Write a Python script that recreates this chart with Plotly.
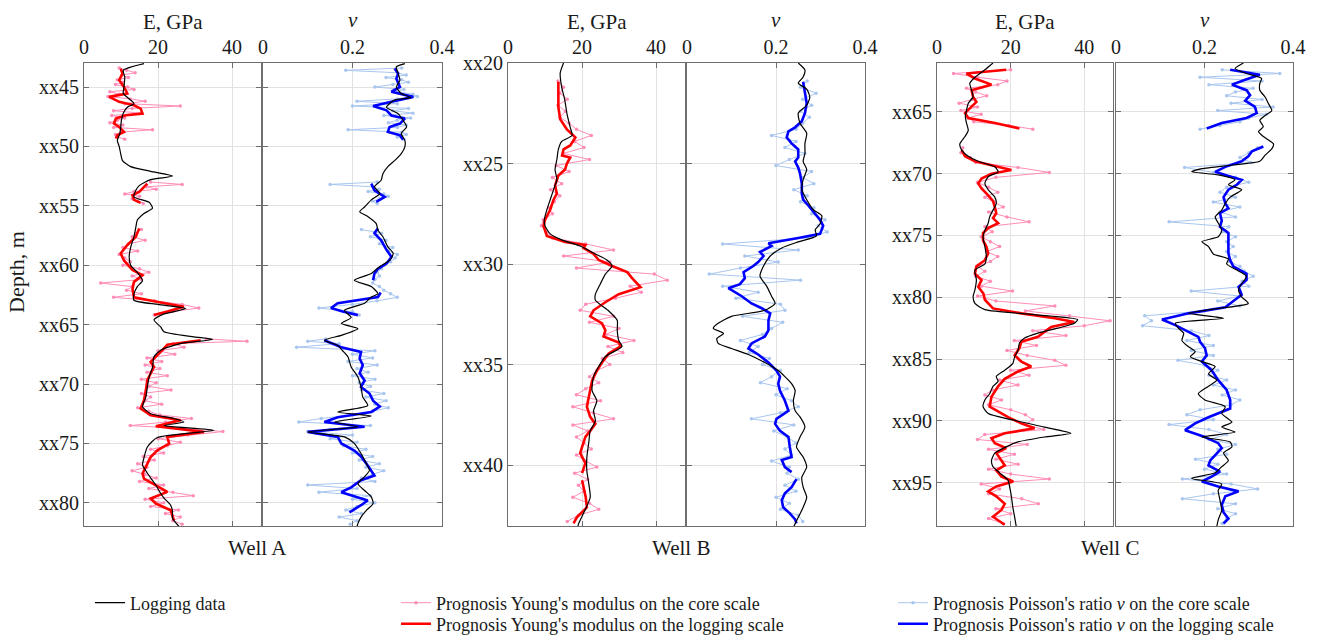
import plotly.graph_objects as go

W, H = 1319, 639
FONT = "Liberation Serif"

# ---------------------------------------------------------------- Well A
A_blackE_depth = [43.03, 43.59, 44.15, 45.0, 45.55, 46.1, 46.4, 46.7, 47.2, 47.8, 48.4, 48.9, 49.5, 50.0, 50.6,
                  51.2, 51.7, 52.1, 52.5, 52.8, 53.3, 53.7, 54.25, 54.7, 55.2, 55.65, 56.2, 56.8, 57.6, 58.5,
                  59.3, 60.0, 60.6, 61.3, 61.8, 62.4, 62.95, 63.3, 63.65, 64.1, 64.6, 65.2, 65.6, 66.03, 66.25,
                  66.6, 67.15, 67.7, 68.6, 69.4, 70.25, 71.1, 71.9, 72.5, 72.9, 73.2, 73.5, 73.9, 74.5, 75.3,
                  76.2, 76.8, 77.3, 77.9, 78.5, 79.0, 79.6, 80.2, 80.7, 81.3, 82.0]
A_blackE = [16.2, 10.6, 11.0, 10.8, 10.6, 12.6, 13.5, 11.7, 10.6, 10.1, 9.9, 9.7, 9.0, 9.5, 9.9,
            10.4, 12.6, 18.0, 23.9, 18.0, 14.9, 14.0, 13.5, 17.6, 18.5, 16.2, 14.4, 14.0, 13.5, 12.6,
            12.2, 12.6, 14.4, 15.8, 14.4, 13.5, 13.5, 20.0, 27.5, 21.6, 18.9, 20.7, 21.6, 29.7, 34.7,
            26.0, 20.7, 18.9, 18.5, 17.6, 17.1, 16.7, 15.8, 18.0, 24.3, 27.0, 21.6, 35.1, 19.8, 17.1,
            16.2, 15.8, 16.7, 18.0, 19.4, 20.3, 21.6, 23.4, 23.9, 23.9, 25.7]

A_blackNu_depth = [43.03, 43.3, 43.87, 44.43, 45.0, 45.55, 45.9, 46.1, 46.7, 47.24, 47.8, 48.36, 48.9, 49.5, 50.04,
                   50.6, 51.2, 51.7, 52.3, 52.85, 53.4, 53.97, 54.5, 55.1, 55.5, 55.9, 56.5, 57.06, 57.6, 58.46,
                   59.0, 59.6, 60.1, 60.7, 61.27, 61.8, 62.4, 62.67, 63.2, 63.8, 64.4, 64.9, 65.35, 65.9, 66.32,
                   66.75, 67.2, 67.72, 68.56, 69.4, 70.25, 71.1, 71.8, 72.35, 72.7, 73.2, 73.6, 74.03, 74.45, 75.0,
                   75.85, 76.7, 77.26, 77.8, 78.4, 78.96, 79.5, 80.06, 80.63, 81.2, 81.75, 82.0]
A_blackNu = [0.317, 0.298, 0.302, 0.306, 0.298, 0.309, 0.33, 0.294, 0.276, 0.302, 0.313, 0.321, 0.309, 0.317, 0.317,
             0.309, 0.294, 0.279, 0.268, 0.264, 0.249, 0.261, 0.242, 0.227, 0.216, 0.234, 0.253, 0.257, 0.268, 0.279,
             0.291, 0.283, 0.261, 0.242, 0.204, 0.242, 0.257, 0.242, 0.227, 0.182, 0.197, 0.175, 0.212, 0.175, 0.137,
             0.167, 0.178, 0.19, 0.197, 0.212, 0.219, 0.223, 0.234, 0.167, 0.242, 0.16, 0.212, 0.1, 0.182, 0.204,
             0.219, 0.231, 0.238, 0.227, 0.212, 0.227, 0.242, 0.246, 0.231, 0.219, 0.212, 0.21]

A_redE_depth = [
    [43.45, 43.87, 44.43, 44.99, 45.55, 45.83, 46.25, 46.54, 46.82, 47.24, 47.38, 47.66, 48.08, 48.36, 48.78, 49.06, 49.34],
    [53.13, 53.83, 54.1, 54.5, 54.75],
    [56.9, 57.6, 58.3, 59.0, 59.6, 60.4, 60.85, 61.4, 62.0, 62.7, 63.1, 63.5, 63.9, 64.2],
    [66.32, 66.7, 67.3, 67.72, 68.14, 68.56, 69.12, 69.68, 70.53, 71.37, 72.07, 72.63, 73.05, 73.56, 74.03, 74.45,
     75.01, 75.58, 76.14, 77.54, 77.96, 78.52, 79.08, 79.64, 80.06, 80.63, 81.47],
]
A_redE = [
    [9.9, 10.4, 9.5, 10.8, 11.7, 6.8, 9.5, 13.5, 15.3, 15.8, 11.3, 8.6, 8.1, 9.5, 10.8, 9.0, 8.6],
    [17.1, 14.9, 13.1, 13.5, 15.3],
    [14.9, 14.0, 11.7, 9.9, 10.8, 13.1, 15.8, 13.5, 13.1, 13.5, 20.0, 27.0, 22.5, 18.9],
    [31.5, 22.5, 20.7, 19.4, 18.0, 18.9, 18.0, 17.1, 16.7, 16.2, 15.3, 18.0, 26.1, 19.4, 32.4, 22.5,
     23.0, 19.8, 18.0, 15.8, 16.2, 19.4, 22.5, 18.0, 19.4, 23.4, 24.3],
]

A_blueNu_depth = [
    [43.45, 43.87, 44.3, 44.99, 45.4, 45.83, 46.25, 46.6, 46.96, 47.4, 47.66, 48.08, 48.36, 48.78, 49.06, 49.43],
    [53.13, 53.7, 54.25, 54.67],
    [56.9, 57.3, 57.9, 58.7, 59.3, 59.86, 60.3, 60.7, 61.27],
    [62.3, 62.67, 63.2, 63.6, 63.9, 64.2],
    [66.32, 66.9, 67.3, 67.86, 68.4, 69.1, 69.7, 70.25, 70.8, 71.4, 71.9, 72.35, 72.8, 73.2, 73.6, 74.03,
     74.45, 75.0, 75.6, 76.1, 76.7, 77.26, 77.7, 78.1, 78.7, 79.1, 79.5, 79.8, 80.2, 80.8],
]
A_blueNu = [
    [0.294, 0.302, 0.298, 0.306, 0.287, 0.336, 0.287, 0.246, 0.276, 0.287, 0.317, 0.306, 0.283, 0.279, 0.306, 0.313],
    [0.242, 0.249, 0.272, 0.253],
    [0.257, 0.249, 0.264, 0.276, 0.287, 0.276, 0.257, 0.249, 0.246],
    [0.263, 0.257, 0.167, 0.152, 0.178, 0.212],
    [0.137, 0.175, 0.219, 0.216, 0.223, 0.216, 0.227, 0.219, 0.238, 0.246, 0.261, 0.242, 0.167, 0.137, 0.227, 0.1,
     0.167, 0.175, 0.204, 0.219, 0.231, 0.242, 0.249, 0.219, 0.197, 0.175, 0.212, 0.234, 0.219, 0.193],
]

A_core_depth = [
    [43.4, 43.6, 43.8, 44.0, 44.2, 44.4, 44.6, 44.8, 45.0, 45.2, 45.4, 45.6, 45.8, 46.0, 46.2, 46.4,
     46.6, 46.8, 47.0, 47.2, 47.4, 47.6, 47.8, 48.0, 48.2, 48.4, 48.6, 48.8, 49.0, 49.2, 49.4],
    [53.0, 53.2, 53.4, 53.6, 53.8, 54.0, 54.2, 54.4, 54.6, 54.8],
    [57.0, 57.3, 57.6, 57.9, 58.2, 58.5, 58.8, 59.1, 59.4, 59.7, 60.0, 60.3, 60.6, 60.9, 61.2, 61.5,
     61.8, 62.1, 62.4, 62.7, 63.0, 63.3, 63.6, 63.9, 64.2],
    [66.2, 66.4, 66.6, 66.9, 67.2, 67.5, 67.8, 68.1, 68.4, 68.7, 69.0, 69.3, 69.6, 69.9, 70.2, 70.5,
     70.8, 71.1, 71.4, 71.7, 72.0, 72.3, 72.6, 72.9, 73.2, 73.5, 73.8, 74.0, 74.3, 74.6, 74.9, 75.2,
     75.5, 75.8, 76.1, 76.4, 76.7, 77.0, 77.3, 77.6, 77.9, 78.2, 78.5, 78.8, 79.1, 79.4, 79.7, 80.0,
     80.3, 80.6, 80.9, 81.2, 81.5, 81.8],
]
A_coreE = [
    [9.5, 11.5, 13.8, 10.2, 12.0, 9.0, 10.5, 8.5, 11.8, 13.5, 7.0, 9.5, 6.5, 12.5, 16.5, 11.0,
     26.0, 13.0, 8.0, 15.5, 7.5, 11.0, 9.0, 7.0, 10.5, 8.0, 18.5, 10.0, 8.5, 9.0, 11.0],
    [18.0, 26.5, 17.0, 19.5, 13.5, 11.0, 15.0, 13.0, 14.5, 16.0],
    [15.5, 14.0, 13.0, 16.5, 12.0, 10.5, 14.5, 9.5, 11.0, 12.5, 10.5, 15.0, 17.5, 13.0, 15.5, 4.5,
     13.0, 11.5, 15.5, 8.0, 19.0, 26.5, 31.0, 24.0, 19.0],
    [33.0, 44.0, 24.0, 27.0, 20.0, 24.5, 17.0, 21.0, 16.5, 20.5, 17.0, 22.5, 15.5, 19.5, 17.5, 23.5,
     15.5, 18.0, 16.5, 21.0, 14.5, 17.5, 20.5, 29.0, 22.0, 12.5, 30.0, 37.5, 28.0, 20.0, 26.0, 22.5,
     18.0, 21.5, 16.0, 19.0, 14.5, 17.0, 13.0, 16.5, 19.5, 15.0, 21.5, 17.5, 24.0, 29.5, 16.5, 21.5,
     18.0, 25.5, 22.0, 26.0, 24.0, 26.5],
]
A_coreNu = [
    [0.31, 0.185, 0.30, 0.32, 0.275, 0.31, 0.325, 0.29, 0.25, 0.315, 0.30, 0.335, 0.345, 0.30, 0.21, 0.30,
     0.20, 0.325, 0.29, 0.335, 0.27, 0.33, 0.30, 0.28, 0.32, 0.30, 0.19, 0.31, 0.32, 0.30, 0.315],
    [0.255, 0.15, 0.245, 0.26, 0.235, 0.27, 0.28, 0.26, 0.245, 0.255],
    [0.22, 0.265, 0.24, 0.275, 0.26, 0.29, 0.28, 0.30, 0.295, 0.285, 0.27, 0.265, 0.255, 0.26, 0.25, 0.245,
     0.26, 0.27, 0.285, 0.30, 0.255, 0.20, 0.125, 0.20, 0.215],
    [0.14, 0.10, 0.17, 0.075, 0.25, 0.20, 0.245, 0.19, 0.255, 0.21, 0.235, 0.20, 0.25, 0.215, 0.24, 0.22,
     0.27, 0.23, 0.275, 0.25, 0.28, 0.245, 0.20, 0.13, 0.08, 0.24, 0.15, 0.10, 0.20, 0.15, 0.21, 0.18,
     0.23, 0.20, 0.245, 0.215, 0.26, 0.23, 0.27, 0.245, 0.22, 0.25, 0.10, 0.21, 0.125, 0.24, 0.20, 0.25,
     0.21, 0.185, 0.22, 0.17, 0.21, 0.195],
]

# ---------------------------------------------------------------- Well B
B_blackE_depth = [20.0, 20.5, 21.2, 21.8, 22.5, 23.2, 23.6, 23.9, 24.3, 24.8, 25.3, 25.8, 26.3, 26.8, 27.3, 27.8,
                  28.1, 28.5, 28.8, 29.1, 29.5, 29.8, 30.1, 30.5, 31.0, 31.5, 31.8, 32.3, 32.8, 33.3, 33.8, 34.1,
                  34.6, 35.1, 35.6, 36.3, 36.8, 37.3, 37.8, 38.3, 38.9, 39.6, 40.3, 40.9, 41.6, 42.2, 42.9, 43.1]
B_blackE = [15.0, 14.1, 14.5, 15.3, 15.9, 16.8, 17.3, 14.5, 13.6, 13.2, 12.7, 13.2, 12.3, 11.4, 10.5, 9.8,
            10.0, 11.4, 14.5, 19.5, 23.6, 26.7, 28.1, 26.3, 24.9, 23.6, 23.6, 27.0, 29.5, 29.5, 29.9, 30.8,
            26.3, 24.5, 23.1, 22.7, 24.0, 23.1, 23.6, 22.2, 21.8, 21.3, 21.3, 21.8, 22.2, 20.9, 19.1, 18.8]

B_blackNu_depth = [20.0, 20.35, 20.7, 21.0, 21.3, 21.7, 22.1, 22.5, 23.0, 23.5, 24.0, 24.5, 24.9, 25.3, 25.8, 26.3,
                   26.8, 27.3, 27.6, 28.0, 28.3, 28.6, 28.9, 29.2, 29.6, 30.1, 30.6, 31.1, 31.6, 31.96, 32.3, 32.6,
                   32.95, 33.2, 33.45, 33.7, 33.95, 34.2, 34.5, 34.9, 35.3, 35.6, 35.95, 36.3, 36.8, 37.3, 37.6, 38.1,
                   38.6, 39.1, 39.6, 40.1, 40.6, 41.1, 41.6, 42.1, 42.6, 43.1]
B_blackNu = [0.25, 0.265, 0.261, 0.25, 0.269, 0.276, 0.269, 0.25, 0.254, 0.269, 0.265, 0.265, 0.261, 0.269, 0.261, 0.258,
             0.269, 0.284, 0.303, 0.299, 0.288, 0.291, 0.25, 0.213, 0.187, 0.172, 0.164, 0.179, 0.19, 0.198, 0.175, 0.1,
             0.07, 0.059, 0.082, 0.067, 0.07, 0.1, 0.138, 0.175, 0.205, 0.22, 0.235, 0.243, 0.239, 0.243, 0.254, 0.265,
             0.254, 0.246, 0.261, 0.269, 0.258, 0.261, 0.269, 0.261, 0.25, 0.239]

B_redE_depth = [
    [20.93, 21.5, 22.2, 22.8, 23.3, 23.7, 24.1, 24.3, 24.6, 24.7, 25.0, 25.3, 25.6, 26.1, 26.5, 26.8, 27.3,
     27.8, 28.1, 28.6, 28.9, 29.05, 29.2, 29.5, 29.8, 30.1, 30.4, 30.7, 31.0, 31.15, 31.5, 31.9, 32.3, 32.6,
     32.95, 33.3, 33.6, 33.9, 34.1, 34.45, 34.9, 35.3, 35.8, 36.3, 36.8, 37.1, 37.6, 37.95, 38.3, 38.6, 39.1,
     39.4, 39.9, 40.4],
    [40.75, 41.1, 41.6, 42.1, 42.6, 42.9],
]
B_redE = [
    [13.6, 13.6, 13.6, 14.1, 15.9, 18.2, 16.8, 15.0, 14.6, 16.8, 15.9, 15.4, 13.6, 12.7, 13.2, 12.3, 11.4,
     10.0, 9.6, 10.5, 15.4, 20.9, 20.4, 23.1, 24.5, 28.1, 32.2, 33.5, 34.9, 35.8, 29.9, 26.3, 23.1, 22.2,
     25.4, 26.3, 25.8, 29.9, 30.4, 27.2, 25.4, 24.0, 22.7, 22.2, 21.8, 21.3, 22.2, 23.6, 22.2, 20.9, 20.0,
     19.5, 20.9, 20.0],
    [20.0, 20.4, 21.0, 21.3, 18.6, 17.7],
]

B_blueNu_depth = [
    [20.93, 21.5, 22.0, 22.5, 22.9, 23.2, 23.4, 23.7, 24.0, 24.3, 24.7, 24.9, 25.2, 25.5, 26.0, 26.5, 26.8,
     27.1, 27.5, 27.8, 28.1, 28.5, 28.7, 28.97, 29.1, 29.4, 29.6, 29.9, 30.1, 30.4, 30.7, 31.0, 31.2, 31.3,
     31.6, 31.96, 32.2, 32.45, 32.8, 33.3, 33.6, 33.95, 34.2, 34.5, 34.9, 35.3, 35.6, 35.95, 36.3, 36.8, 37.3,
     37.7, 37.95, 38.3, 38.6, 39.1, 39.6, 39.75, 40.1, 40.35],
    [40.7, 41.1, 41.4, 41.75, 42.1, 42.4, 42.7, 42.9],
]
B_blueNu = [
    [0.261, 0.265, 0.269, 0.265, 0.258, 0.243, 0.228, 0.224, 0.235, 0.25, 0.25, 0.243, 0.25, 0.254, 0.258, 0.258, 0.261,
     0.273, 0.288, 0.299, 0.306, 0.299, 0.25, 0.183, 0.19, 0.164, 0.172, 0.16, 0.149, 0.127, 0.13, 0.119, 0.093, 0.1,
     0.123, 0.145, 0.168, 0.187, 0.183, 0.183, 0.175, 0.145, 0.138, 0.16, 0.183, 0.201, 0.209, 0.205, 0.209, 0.22, 0.228,
     0.201, 0.198, 0.209, 0.228, 0.231, 0.235, 0.213, 0.22, 0.235],
    [0.246, 0.235, 0.22, 0.213, 0.216, 0.231, 0.243, 0.246],
]

B_core_depth = [
    [20.9, 21.2, 21.5, 21.8, 22.1, 22.4, 22.7, 23.0, 23.3, 23.6, 23.9, 24.2, 24.5, 24.8, 25.1, 25.4,
     25.7, 26.0, 26.3, 26.6, 26.9, 27.2, 27.5, 27.8, 28.1, 28.4, 28.7, 29.0, 29.3, 29.6, 29.9, 30.2,
     30.5, 30.8, 31.1, 31.4, 31.7, 32.0, 32.3, 32.6, 32.9, 33.2, 33.5, 33.8, 34.1, 34.4, 34.7, 35.0,
     35.3, 35.6, 35.9, 36.2, 36.5, 36.8, 37.1, 37.4, 37.7, 38.0, 38.3, 38.6, 38.9, 39.2, 39.5, 39.8,
     40.1, 40.4, 40.7, 41.0, 41.3, 41.6, 41.9, 42.2, 42.5, 42.8],
]
B_coreE = [
    [13.5, 15.0, 14.0, 16.0, 13.5, 15.5, 14.0, 16.5, 18.5, 22.5, 18.0, 20.5, 15.0, 22.0, 13.0, 16.5,
     12.0, 14.5, 11.5, 14.0, 12.5, 11.0, 12.0, 9.5, 9.0, 10.5, 12.0, 21.0, 28.5, 15.0, 27.5, 18.5,
     39.5, 43.0, 33.0, 36.0, 29.0, 21.0, 19.5, 28.5, 22.0, 30.0, 26.5, 34.0, 27.0, 31.0, 25.5, 27.5,
     24.0, 22.0, 24.5, 21.0, 18.5, 25.0, 17.5, 23.0, 28.5, 17.5, 21.5, 18.5, 20.5, 22.5, 18.5, 21.0,
     24.0, 18.0, 21.5, 19.0, 20.5, 17.5, 22.0, 24.5, 19.0, 16.0],
]
B_coreNu = [
    [0.27, 0.255, 0.29, 0.26, 0.28, 0.255, 0.275, 0.26, 0.245, 0.19, 0.245, 0.22, 0.265, 0.23, 0.20, 0.28,
     0.26, 0.285, 0.24, 0.27, 0.255, 0.285, 0.28, 0.31, 0.295, 0.315, 0.27, 0.08, 0.25, 0.13, 0.205, 0.12,
     0.05, 0.255, 0.08, 0.16, 0.11, 0.21, 0.22, 0.125, 0.215, 0.19, 0.17, 0.12, 0.16, 0.14, 0.185, 0.17,
     0.21, 0.19, 0.165, 0.225, 0.20, 0.235, 0.25, 0.21, 0.145, 0.24, 0.195, 0.225, 0.245, 0.22, 0.235, 0.19,
     0.23, 0.225, 0.25, 0.22, 0.245, 0.20, 0.23, 0.21, 0.25, 0.26],
]

# ---------------------------------------------------------------- Well C
C_blackE_depth = [61.05, 61.6, 62.2, 62.7, 63.25, 63.8, 64.3, 64.9, 65.4, 65.9, 66.5, 67.0, 67.6, 68.1, 68.6, 69.0,
                  69.45, 69.85, 70.25, 70.8, 71.3, 71.9, 72.4, 72.95, 73.5, 74.0, 74.6, 75.1, 75.9, 76.7, 77.3, 77.8,
                  78.6, 79.4, 79.96, 80.5, 81.0, 81.4, 81.8, 82.1, 82.5, 82.9, 83.3, 83.7, 84.3, 84.8, 85.35, 85.9,
                  86.4, 86.8, 87.2, 87.8, 88.3, 88.85, 89.4, 89.9, 90.5, 91.0, 91.3, 91.7, 92.1, 92.6, 93.2, 93.7,
                  94.2, 94.8, 95.3, 96.1, 97.0, 97.8, 98.5]
C_blackE = [15.2, 13.0, 10.3, 8.9, 9.4, 9.8, 8.5, 8.0, 7.7, 8.0, 8.5, 7.6, 6.2, 6.7, 8.5, 11.2,
            15.7, 16.6, 13.9, 13.0, 13.9, 15.7, 16.1, 15.2, 14.3, 13.9, 13.0, 12.5, 13.0, 13.4, 13.0, 10.3,
            10.7, 10.3, 9.8, 10.3, 13.0, 26.5, 38.2, 37.3, 32.8, 27.4, 23.8, 22.4, 22.0, 21.1, 20.6, 18.4,
            16.1, 16.6, 15.2, 14.3, 13.0, 12.5, 13.9, 20.2, 29.2, 36.4, 29.2, 22.0, 18.8, 15.7, 14.8, 15.2,
            17.0, 19.3, 19.7, 20.2, 20.6, 21.1, 21.5]

C_blackNu_depth = [61.05, 61.5, 61.9, 62.3, 62.7, 63.25, 63.8, 64.3, 64.9, 65.3, 65.7, 66.2, 66.6, 67.0, 67.6, 68.0,
                   68.5, 69.0, 69.3, 69.6, 69.85, 70.1, 70.5, 70.9, 71.3, 71.9, 72.4, 72.95, 73.5, 74.0, 74.6, 75.1,
                   75.5, 75.9, 76.5, 76.9, 77.3, 77.8, 78.3, 78.9, 79.4, 79.96, 80.5, 80.9, 81.3, 81.7, 82.1, 82.5,
                   82.9, 83.5, 84.0, 84.4, 84.8, 85.2, 85.6, 86.2, 86.7, 87.2, 87.8, 88.3, 88.85, 89.4, 90.1, 90.5,
                   90.9, 91.3, 91.7, 92.1, 92.6, 93.2, 93.7, 94.2, 94.65, 95.1, 95.6, 96.4, 97.2, 98.0, 98.5]
C_blackNu = [0.288, 0.269, 0.295, 0.329, 0.325, 0.325, 0.337, 0.344, 0.352, 0.337, 0.325, 0.333, 0.322, 0.333, 0.356, 0.352,
             0.337, 0.325, 0.262, 0.194, 0.171, 0.231, 0.269, 0.254, 0.284, 0.258, 0.247, 0.239, 0.224, 0.231, 0.239, 0.231,
             0.194, 0.209, 0.22, 0.254, 0.25, 0.273, 0.295, 0.284, 0.277, 0.284, 0.299, 0.231, 0.164, 0.243, 0.134, 0.141,
             0.153, 0.149, 0.164, 0.179, 0.168, 0.194, 0.224, 0.209, 0.228, 0.209, 0.186, 0.201, 0.247, 0.239, 0.262, 0.239,
             0.269, 0.194, 0.258, 0.262, 0.243, 0.254, 0.239, 0.224, 0.171, 0.239, 0.231, 0.235, 0.239, 0.231, 0.228]

C_redE_depth = [
    [61.6, 61.9, 62.3, 62.8, 63.25, 63.8, 64.2, 64.6, 65.1, 65.5, 65.9, 66.35],
    [68.1, 68.6, 69.0, 69.45, 69.7, 70.0, 70.4, 70.8, 71.2, 71.6, 72.2, 72.7, 73.2, 73.6, 74.0, 74.4, 74.8,
     75.4, 75.9, 76.45, 77.0, 77.5, 78.1, 78.6, 79.15, 79.7, 80.2, 80.9, 81.3, 81.7, 82.0, 82.4, 82.8, 83.2,
     83.6, 84.1, 84.7, 85.2, 85.6, 86.0, 86.6, 87.2, 88.05, 88.85, 89.7, 90.2, 90.6, 91.0, 91.4, 91.8, 92.2,
     92.6, 93.2, 93.6, 94.0, 94.5, 94.9, 95.3, 95.7, 96.1, 96.7, 97.2, 97.75, 98.15, 98.4],
]
C_redE = [
    [18.8, 8.0, 10.3, 14.8, 9.4, 9.8, 10.7, 9.4, 7.6, 8.5, 15.7, 22.4],
    [6.7, 7.6, 10.3, 16.6, 20.2, 14.8, 12.1, 11.2, 12.1, 13.4, 15.2, 15.7, 16.1, 15.2, 16.6, 13.9, 12.5,
     12.5, 13.4, 13.9, 13.0, 10.7, 10.3, 12.1, 11.2, 12.6, 13.0, 15.2, 22.9, 32.0, 37.3, 31.0, 29.2, 27.4,
     22.9, 22.4, 21.1, 22.9, 25.6, 22.0, 18.4, 16.6, 14.8, 14.3, 19.3, 22.9, 26.5, 18.4, 14.8, 15.7, 18.8,
     16.1, 17.5, 18.4, 16.1, 17.5, 20.7, 16.1, 13.9, 16.1, 18.4, 17.5, 15.2, 17.0, 18.4],
]

C_blueNu_depth = [
    [61.6, 62.0, 62.4, 62.8, 63.25, 63.65, 64.1, 64.6, 65.1, 65.5, 65.9, 66.35],
    [67.8, 68.2, 68.6, 69.0, 69.45, 69.85, 70.1, 70.5, 70.9, 71.3, 71.9, 72.4, 72.8, 73.2, 73.8, 74.3, 74.8,
     75.4, 75.9, 76.45, 77.0, 77.5, 78.1, 78.6, 79.15, 79.5, 79.8, 80.2, 80.8, 81.3, 81.8, 82.25, 82.8, 83.2,
     83.6, 84.1, 84.7, 85.2, 85.9, 86.7, 87.5, 88.3, 89.0, 89.7, 90.2, 90.75, 91.3, 91.8, 92.2, 92.6, 93.2,
     93.6, 94.1, 94.5, 94.9, 95.3, 95.7, 96.1, 96.8, 97.4, 97.9, 98.3],
]
C_blueNu = [
    [0.258, 0.325, 0.292, 0.262, 0.295, 0.303, 0.292, 0.314, 0.318, 0.295, 0.239, 0.205],
    [0.333, 0.307, 0.299, 0.284, 0.247, 0.224, 0.247, 0.284, 0.273, 0.254, 0.243, 0.247, 0.254, 0.235, 0.239, 0.235, 0.254,
     0.254, 0.254, 0.254, 0.258, 0.265, 0.295, 0.295, 0.277, 0.28, 0.284, 0.269, 0.247, 0.164, 0.104, 0.134, 0.164, 0.186,
     0.19, 0.201, 0.205, 0.194, 0.216, 0.231, 0.25, 0.258, 0.258, 0.209, 0.179, 0.156, 0.201, 0.231, 0.239, 0.228, 0.213,
     0.209, 0.235, 0.216, 0.194, 0.231, 0.277, 0.247, 0.239, 0.243, 0.254, 0.243],
]

C_core_depth = [
    [61.6, 61.9, 62.2, 62.5, 62.8, 63.1, 63.4, 63.7, 64.0, 64.3, 64.6, 64.9, 65.2, 65.5, 65.8, 66.1, 66.4],
    [67.9, 68.3, 68.7, 69.1, 69.5, 69.9, 70.3, 70.7, 71.1, 71.5, 71.9, 72.3, 72.7, 73.1, 73.5, 73.9,
     74.3, 74.7, 75.1, 75.5, 75.9, 76.3, 76.7, 77.1, 77.5, 77.9, 78.3, 78.7, 79.1, 79.5, 79.9, 80.3,
     80.7, 81.1, 81.5, 81.9, 82.3, 82.7, 83.1, 83.5, 83.9, 84.3, 84.7, 85.1, 85.5, 85.9, 86.3, 86.7,
     87.1, 87.5, 87.9, 88.3, 88.7, 89.1, 89.5, 89.9, 90.3, 90.7, 91.1, 91.5, 91.9, 92.3, 92.7, 93.1,
     93.5, 93.9, 94.3, 94.7, 95.1, 95.5, 95.9, 96.3, 96.7, 97.1, 97.5, 97.9, 98.3],
]
C_coreE = [
    [20.0, 4.5, 11.0, 19.0, 16.5, 8.0, 10.5, 13.5, 9.5, 6.0, 11.0, 6.5, 12.0, 8.5, 10.0, 19.5, 26.0],
    [7.0, 6.5, 9.0, 10.5, 22.0, 30.5, 16.0, 11.0, 14.0, 16.5, 13.0, 15.5, 18.0, 14.0, 19.0, 25.0,
     13.0, 15.0, 12.0, 14.5, 17.0, 13.5, 16.5, 14.5, 11.0, 13.0, 10.5, 14.5, 12.0, 20.5, 11.0, 16.0,
     32.0, 24.0, 36.0, 47.0, 40.0, 26.0, 35.0, 21.0, 27.0, 19.0, 24.5, 32.0, 35.0, 20.0, 25.0, 17.0,
     22.0, 15.0, 13.0, 17.5, 14.0, 20.0, 24.0, 26.0, 24.0, 29.0, 13.0, 11.0, 24.5, 14.0, 21.0, 16.0,
     22.0, 14.0, 20.0, 30.5, 12.0, 17.0, 14.0, 23.0, 27.5, 16.0, 20.0, 14.0, 18.0],
]
C_coreNu = [
    [0.24, 0.37, 0.19, 0.33, 0.21, 0.31, 0.27, 0.25, 0.33, 0.26, 0.355, 0.23, 0.34, 0.30, 0.28, 0.235, 0.19],
    [0.32, 0.30, 0.28, 0.305, 0.155, 0.22, 0.27, 0.30, 0.25, 0.235, 0.27, 0.22, 0.28, 0.235, 0.27, 0.12,
     0.255, 0.24, 0.27, 0.25, 0.265, 0.25, 0.27, 0.255, 0.28, 0.29, 0.31, 0.285, 0.30, 0.17, 0.28, 0.23,
     0.28, 0.20, 0.065, 0.08, 0.06, 0.17, 0.21, 0.16, 0.22, 0.17, 0.22, 0.14, 0.20, 0.23, 0.21, 0.25,
     0.22, 0.27, 0.24, 0.28, 0.26, 0.19, 0.16, 0.22, 0.12, 0.21, 0.25, 0.21, 0.27, 0.23, 0.25, 0.18,
     0.23, 0.20, 0.25, 0.15, 0.26, 0.32, 0.22, 0.15, 0.27, 0.23, 0.27, 0.25, 0.24],
]

# ---------------------------------------------------------------- axes settings
WELL_NAMES = ["Well A", "Well B", "Well C"]
DEPTH_RANGES = [(81.95, 42.98), (43.03, 20.0), (98.5, 61.05)]
DEPTH_TICKS = [[45, 50, 55, 60, 65, 70, 75, 80], [20, 25, 30, 35, 40], [65, 70, 75, 80, 85, 90, 95]]
E_TICKS = [0, 20, 40]
NU_TICKS = [0, 0.2, 0.4]
NU_TICKTEXT = ["0", "0.2", "0.4"]

# pixel frames of the panels: (E panel), (nu panel)
FRAMES = [((84, 261), (263, 442)), ((508, 685), (687, 865)), ((937, 1113), (1116, 1293))]
TOP, BOTTOM = 63, 526

C_BLACK = "#000000"
C_PINK = "#ff8db8"
C_RED = "#ff0000"
C_LBLUE = "#a9c6ef"
C_BLUE = "#0000ff"
C_TEXT = "#1a1a1a"
C_FRAME = "#6e6e6e"

NAME_LOG = "Logging data"
NAME_E_CORE = "Prognosis Young's modulus on the core scale"
NAME_E_LOG = "Prognosis Young's modulus on the logging scale"
NAME_NU_CORE = "Prognosis Poisson's ratio <i>ν</i> on the core scale"
NAME_NU_LOG = "Prognosis Poisson's ratio <i>ν</i> on the logging scale"


def joined(segments):
    """Flatten a list of segments, leaving a gap between them."""
    out = []
    for i, seg in enumerate(segments):
        if i:
            out.append(None)
        out.extend(seg)
    return out


wells = [
    dict(blackE_d=A_blackE_depth, blackE=A_blackE, blackNu_d=A_blackNu_depth, blackNu=A_blackNu,
         redE_d=A_redE_depth, redE=A_redE, blueNu_d=A_blueNu_depth, blueNu=A_blueNu,
         core_d=A_core_depth, coreE=A_coreE, coreNu=A_coreNu),
    dict(blackE_d=B_blackE_depth, blackE=B_blackE, blackNu_d=B_blackNu_depth, blackNu=B_blackNu,
         redE_d=B_redE_depth, redE=B_redE, blueNu_d=B_blueNu_depth, blueNu=B_blueNu,
         core_d=B_core_depth, coreE=B_coreE, coreNu=B_coreNu),
    dict(blackE_d=C_blackE_depth, blackE=C_blackE, blackNu_d=C_blackNu_depth, blackNu=C_blackNu,
         redE_d=C_redE_depth, redE=C_redE, blueNu_d=C_blueNu_depth, blueNu=C_blueNu,
         core_d=C_core_depth, coreE=C_coreE, coreNu=C_coreNu),
]

fig = go.Figure()
layout = {}

for i, w in enumerate(wells):
    first = i == 0
    xe, xn = f"x{2 * i + 1}", f"x{2 * i + 2}"
    ye, yn = f"y{2 * i + 1}", f"y{2 * i + 2}"

    # Young's modulus panel
    fig.add_trace(go.Scatter(x=joined(w["coreE"]), y=joined(w["core_d"]), xaxis=xe, yaxis=ye,
                             mode="lines+markers", line=dict(color=C_PINK, width=1),
                             marker=dict(color=C_PINK, size=3.5), name=NAME_E_CORE,
                             legend="legend2", showlegend=first))
    fig.add_trace(go.Scatter(x=joined(w["redE"]), y=joined(w["redE_d"]), xaxis=xe, yaxis=ye,
                             mode="lines", line=dict(color=C_RED, width=2.6), name=NAME_E_LOG,
                             legend="legend3", showlegend=first))
    fig.add_trace(go.Scatter(x=w["blackE"], y=w["blackE_d"], xaxis=xe, yaxis=ye, mode="lines",
                             line=dict(color=C_BLACK, width=1.2, shape="spline", smoothing=0.6),
                             name=NAME_LOG, legend="legend", showlegend=first))

    # Poisson's ratio panel
    fig.add_trace(go.Scatter(x=joined(w["coreNu"]), y=joined(w["core_d"]), xaxis=xn, yaxis=yn,
                             mode="lines+markers", line=dict(color=C_LBLUE, width=1),
                             marker=dict(color=C_LBLUE, size=3.5), name=NAME_NU_CORE,
                             legend="legend4", showlegend=first))
    fig.add_trace(go.Scatter(x=joined(w["blueNu"]), y=joined(w["blueNu_d"]), xaxis=xn, yaxis=yn,
                             mode="lines", line=dict(color=C_BLUE, width=2.6), name=NAME_NU_LOG,
                             legend="legend5", showlegend=first))
    fig.add_trace(go.Scatter(x=w["blackNu"], y=w["blackNu_d"], xaxis=xn, yaxis=yn, mode="lines",
                             line=dict(color=C_BLACK, width=1.2, shape="spline", smoothing=0.6),
                             name=NAME_LOG, legend="legend", showlegend=False))

    (e0, e1), (n0, n1) = FRAMES[i]
    ydom = [1 - BOTTOM / H, 1 - TOP / H]
    frame = dict(showline=True, linecolor=C_FRAME, linewidth=1, mirror="ticks", ticks="inside",
                 ticklen=5, tickcolor=C_FRAME, showgrid=True, gridcolor="#e2e2e2", gridwidth=1,
                 zeroline=False, automargin=False, tickfont=dict(family=FONT, size=20, color=C_TEXT))
    layout[f"xaxis{2 * i + 1}"] = dict(frame, domain=[e0 / W, e1 / W], anchor=ye, side="top",
                                       range=[0, 47.8], tickvals=E_TICKS, ticktext=[str(t) for t in E_TICKS])
    layout[f"xaxis{2 * i + 2}"] = dict(frame, domain=[n0 / W, n1 / W], anchor=yn, side="top",
                                       range=[0, 0.4], tickvals=NU_TICKS, ticktext=NU_TICKTEXT)
    ticktext = [f"xx{t}" for t in DEPTH_TICKS[i]]
    layout[f"yaxis{2 * i + 1}"] = dict(frame, domain=ydom, anchor=xe, range=list(DEPTH_RANGES[i]),
                                       tickvals=DEPTH_TICKS[i], ticktext=ticktext)
    layout[f"yaxis{2 * i + 2}"] = dict(frame, domain=ydom, anchor=xn, range=list(DEPTH_RANGES[i]),
                                       tickvals=DEPTH_TICKS[i], ticktext=ticktext, showticklabels=False)


def label(text, xpx, ypx, size=21, angle=0):
    return dict(text=text, x=xpx / W, y=1 - ypx / H, xref="paper", yref="paper", xanchor="center",
                yanchor="middle", textangle=angle, showarrow=False,
                font=dict(family=FONT, size=size, color=C_TEXT))


annotations = []
for i, (ef, nf) in enumerate(FRAMES):
    annotations.append(label("E, GPa", (ef[0] + ef[1]) / 2, 22))
    annotations.append(label("<i>ν</i>", (nf[0] + nf[1]) / 2, 20))
    annotations.append(label(WELL_NAMES[i], (ef[1] + nf[0]) / 2 - 5, 548))
annotations.append(label("Depth, m", 17, 272, size=22, angle=-90))

legend_common = dict(font=dict(family=FONT, size=18, color=C_TEXT), bgcolor="rgba(0,0,0,0)",
                     borderwidth=0, itemwidth=30, xanchor="left", yanchor="middle", orientation="v",
                     tracegroupgap=0)


def legend_at(xpx, ypx):
    return dict(legend_common, x=xpx / W, y=1 - ypx / H)


fig.update_layout(
    width=W, height=H,
    margin=dict(l=0, r=0, t=0, b=0, autoexpand=False),
    paper_bgcolor="white", plot_bgcolor="white",
    font=dict(family=FONT, size=16, color=C_TEXT),
    annotations=annotations,
    legend=legend_at(90, 603),
    legend2=legend_at(396, 603),
    legend3=legend_at(396, 624),
    legend4=legend_at(893, 603),
    legend5=legend_at(893, 624),
    **layout,
)

fig.write_html("out.html")
